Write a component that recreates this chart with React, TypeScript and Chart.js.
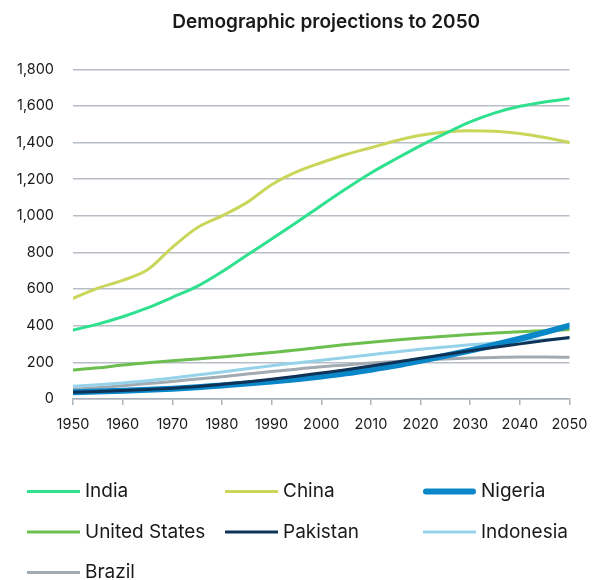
import React, { useEffect, useRef } from "react";
import { Chart, registerables } from "chart.js";

Chart.register(...registerables);

const years = [1950, 1955, 1960, 1965, 1970, 1975, 1980, 1985, 1990, 1995, 2000, 2005, 2010, 2015, 2020, 2025, 2030, 2035, 2040, 2045, 2050];
const india = [376, 409, 449, 497, 555, 615, 695, 785, 873, 963, 1057, 1148, 1234, 1310, 1383, 1450, 1513, 1562, 1598, 1622, 1640];
const china = [550, 605, 648, 705, 828, 935, 1000, 1072, 1170, 1240, 1290, 1335, 1372, 1410, 1440, 1458, 1465, 1462, 1450, 1428, 1400];
const nigeria = [37, 41, 45, 50, 56, 64, 74, 84, 95, 108, 123, 140, 160, 182, 208, 236, 265, 296, 329, 364, 401];
const unitedStates = [158, 170, 186, 198, 209, 219, 229, 241, 254, 267, 283, 297, 310, 322, 333, 343, 352, 360, 367, 373, 379];
const pakistan = [37, 41, 46, 52, 59, 68, 80, 93, 108, 124, 142, 160, 180, 201, 222, 243, 264, 283, 301, 319, 336];
const indonesia = [70, 78, 88, 100, 115, 131, 148, 165, 182, 197, 212, 227, 242, 257, 272, 284, 296, 306, 315, 323, 331];
const brazil = [54, 62, 72, 84, 96, 109, 122, 136, 150, 163, 176, 186, 196, 205, 213, 219, 224, 227, 229, 229, 228];

const seriesNames = ["India", "China", "Nigeria", "United States", "Pakistan", "Indonesia", "Brazil"];
const seriesValues = [india, china, nigeria, unitedStates, pakistan, indonesia, brazil];
const seriesColors = ["#2fe08f", "#c9d65a", "#0a87c9", "#6cbf4f", "#0f3257", "#96d3ea", "#a3abb2"];
const seriesWidths = [3, 3, 6, 3, 3, 3, 3];
const seriesOrder = [0, 1, 3, 4, 2, 5, 6];

const titleText = "Demographic projections to 2050";
const FONT = "Inter";

const gridLegend = {
  id: "gridLegend",
  afterLayout(chart: any) {
    const tb = chart.titleBlock;
    if (tb) {
      tb.left += 5;
      tb.right += 5;
    }
  },
  afterDraw(chart: any) {
    const ctx = chart.ctx;
    const cols = [27, 225, 423];
    const rows = [491.5, 532, 572.5];
    ctx.save();
    chart.data.datasets.forEach((ds: any, i: number) => {
      const x0 = cols[i % 3];
      const y = rows[Math.floor(i / 3)];
      ctx.beginPath();
      ctx.strokeStyle = ds.borderColor;
      ctx.lineWidth = ds.borderWidth;
      ctx.lineCap = ds.borderWidth > 4 ? "round" : "butt";
      const inset = ds.borderWidth > 4 ? 3 : 0;
      ctx.moveTo(x0 + inset, y);
      ctx.lineTo(x0 + 53 - inset, y);
      ctx.stroke();
      ctx.fillStyle = "#1a1a1a";
      ctx.font = `400 19px ${FONT}`;
      ctx.textBaseline = "middle";
      ctx.textAlign = "left";
      ctx.fillText(ds.label, x0 + 58, y);
    });
    ctx.restore();
  },
};

export default function App() {
  const ref = useRef<HTMLCanvasElement | null>(null);
  useEffect(() => {
    if (!ref.current) return;
    const chart = new Chart(ref.current, {
      type: "line",
      data: {
        datasets: seriesNames.map((name, i) => ({
          label: name,
          data: years.map((yr, j) => ({ x: yr, y: seriesValues[i][j] })),
          borderColor: seriesColors[i],
          backgroundColor: seriesColors[i],
          borderWidth: seriesWidths[i],
          borderCapStyle: "round",
          pointRadius: 0,
          cubicInterpolationMode: "monotone",
          order: seriesOrder[i],
        })),
      },
      options: {
        animation: false,
        responsive: false,
        devicePixelRatio: 1,
        layout: { padding: { left: 0, right: 29.5, top: 0, bottom: 141 } },
        plugins: {
          legend: { display: false },
          tooltip: { enabled: false },
          title: {
            display: true,
            text: titleText,
            fullSize: false,
            color: "#1a1a1a",
            font: { family: FONT, size: 19, weight: "600" },
            padding: { top: 10.5, bottom: 36 },
          },
        },
        scales: {
          x: {
            type: "linear",
            min: 1950,
            max: 2050,
            afterFit: (s: any) => {
              s.height = 40;
            },
            ticks: {
              stepSize: 10,
              padding: 11,
              color: "#1a1a1a",
              font: { family: FONT, size: 14.5 },
              callback: (v: any) => String(v),
            },
            grid: {
              drawOnChartArea: false,
              drawTicks: true,
              tickLength: 6,
              color: "#aab3bb",
              lineWidth: 1.5,
            },
            border: { display: true, color: "#aab3bb", width: 1.5 },
          },
          y: {
            min: 0,
            max: 1800,
            afterFit: (s: any) => {
              s.width = 73;
            },
            ticks: {
              stepSize: 200,
              padding: 19,
              color: "#1a1a1a",
              font: { family: FONT, size: 14.5 },
            },
            grid: {
              drawTicks: false,
              color: "#b7bec5",
              lineWidth: 1.5,
            },
            border: { display: false },
          },
        },
      },
      plugins: [gridLegend],
    } as any);
    return () => chart.destroy();
  }, []);
  return (
    <div style={{ position: "fixed", left: 0, top: 0, width: 599, height: 580, background: "#fff" }}>
      <canvas ref={ref} width={599} height={580} style={{ width: 599, height: 580, display: "block" }} />
    </div>
  );
}
